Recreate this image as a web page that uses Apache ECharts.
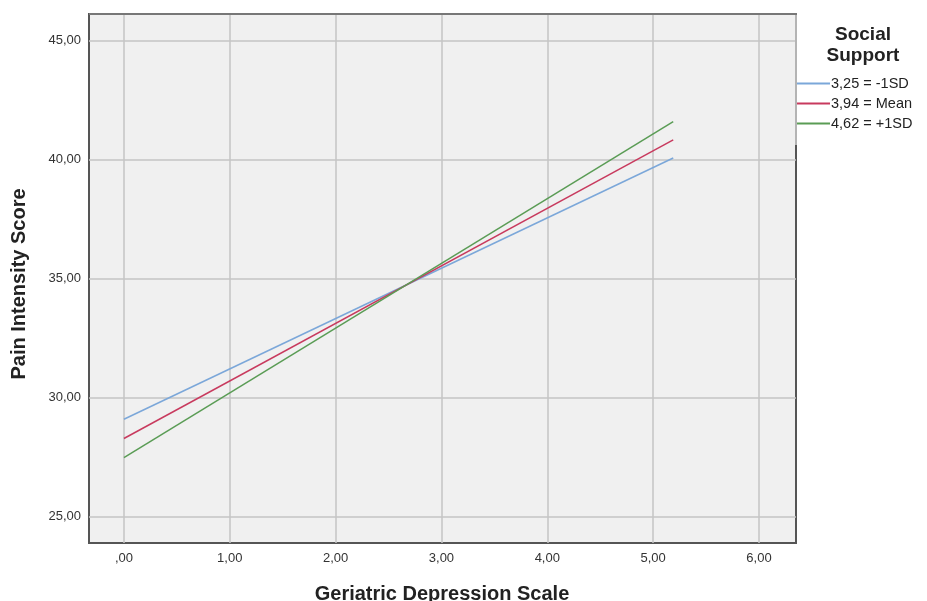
<!DOCTYPE html>
<html>
<head>
<meta charset="utf-8">
<script src="https://cdn.jsdelivr.net/npm/echarts@6/dist/echarts.min.js"></script>
<style>html,body{margin:0;padding:0;background:#fff;}#c{width:927px;height:601px;}</style>
</head>
<body>
<div id="c"></div>
<script>
const xValues = [0, 5.19];
const seriesNames = ['3,25 = -1SD', '3,94 = Mean', '4,62 = +1SD'];
const lowSD = [29.10, 40.08];
const meanSS = [28.29, 40.84];
const highSD = [27.49, 41.61];
const xTicks = [0, 1, 2, 3, 4, 5, 6];
const yTicks = [25, 30, 35, 40, 45];
const colors = ['#7ba7d9', '#c83a5e', '#5a9c55'];

const allSeries = [lowSD, meanSS, highSD];
const fmt = v => {
  let s = v.toFixed(2).replace('.', ',');
  if (s.startsWith('0')) s = s.slice(1);
  return s;
};
const chart = echarts.init(document.getElementById('c'), null, {renderer: 'canvas'});
const font = 'Liberation Sans, Arial, sans-serif';
chart.setOption({
  animation: false,
  backgroundColor: '#ffffff',
  textStyle: {fontFamily: font},
  grid: {left: 89, top: 14, right: 131, bottom: 58, show: true, backgroundColor: '#f0f0f0', borderColor: '#555', borderWidth: 2},
  legend: {
    data: seriesNames,
    orient: 'vertical',
    left: 792, top: 71,
    itemWidth: 33, itemHeight: 2, itemGap: 5,
    icon: 'rect',
    textStyle: {fontFamily: font, fontSize: 14.5, color: '#222', padding: [0, 0, 0, -4]},
    itemStyle: {borderWidth: 0}
  },
  graphic: [
    {type: 'line', shape: {x1: 796, y1: 15, x2: 796, y2: 145}, style: {stroke: '#b4b4b4', lineWidth: 2}, z: 100},
    {type: 'line', shape: {x1: 89, y1: 14, x2: 797, y2: 14}, style: {stroke: '#777', lineWidth: 2}, z: 100},
    {type: 'text', x: 863, y: 24, style: {text: 'Social\nSupport', font: 'bold 19px Liberation Sans, Arial, sans-serif', fill: '#222', align: 'center', lineHeight: 21}},
    {type: 'text', x: 442, y: 594, style: {text: 'Geriatric Depression Scale', font: 'bold 20px Liberation Sans, Arial, sans-serif', fill: '#222', align: 'center', verticalAlign: 'middle'}},
    {type: 'text', x: 19, y: 284, rotation: Math.PI / 2, style: {text: 'Pain Intensity Score', font: 'bold 20px Liberation Sans, Arial, sans-serif', fill: '#222', align: 'center', verticalAlign: 'middle'}}
  ],
  xAxis: {
    type: 'value', min: -0.33, max: 6.35,
    axisLine: {show: false},
    axisTick: {show: false},
    axisLabel: {
      fontSize: 13, color: '#333', margin: 9,
      customValues: xTicks,
      formatter: v => fmt(v)
    },
    splitLine: {show: false},
    axisPointer: {show: false}
  },
  yAxis: {
    type: 'value', min: 23.9, max: 46.13,
    axisLine: {show: false},
    axisTick: {show: false},
    axisLabel: {
      fontSize: 13, color: '#333', margin: 8,
      customValues: yTicks,
      formatter: v => fmt(v)
    },
    splitLine: {show: false}
  },
  series: [
    ...allSeries.map((vals, i) => ({
      name: seriesNames[i], type: 'line', symbol: 'none',
      data: xValues.map((x, j) => [x, vals[j]]),
      lineStyle: {color: colors[i], width: 1.5},
      itemStyle: {color: colors[i]},
      z: 5
    })),
    {
      type: 'line', data: [], silent: true, z: 1,
      markLine: {
        silent: true, symbol: 'none', label: {show: false},
        lineStyle: {color: '#c4c4c4', width: 1.5, type: 'solid'},
        data: [...xTicks.map(v => ({xAxis: v})), ...yTicks.map(v => ({yAxis: v}))]
      }
    }
  ]
});
</script>
</body>
</html>
